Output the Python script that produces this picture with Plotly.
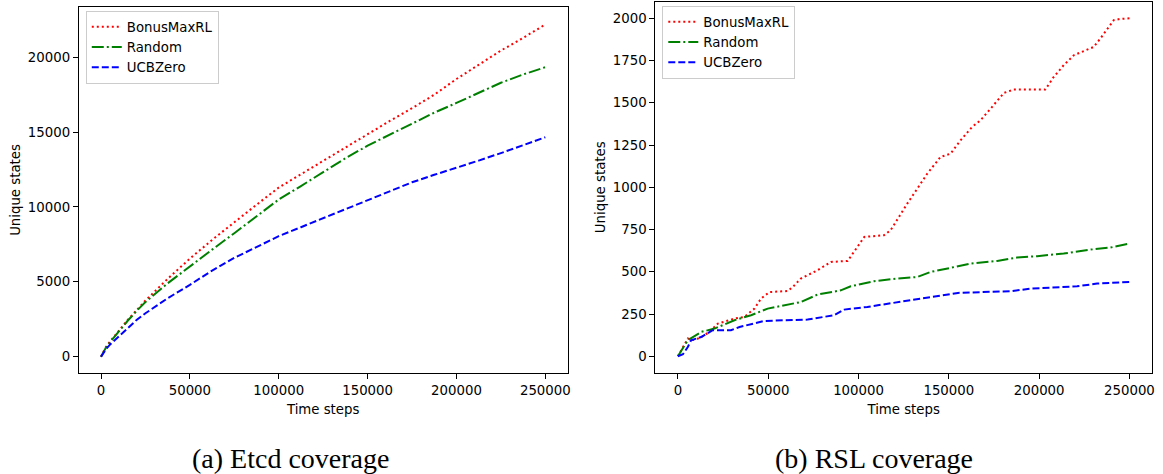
import plotly.graph_objects as go

W, H = 1163, 474

# ---------------- Data: Etcd coverage (left) ----------------
etcd_steps = [0, 2500, 5000, 10000, 15000, 20000, 25000, 37500, 50000, 62500, 75000,
              87500, 100000, 112500, 125000, 137500, 150000, 162500, 175000, 187500,
              200000, 212500, 225000, 237500, 250000]
etcd_bonus = [0, 600, 1000, 1750, 2450, 3100, 3750, 5200, 6550, 7800, 9000,
              10150, 11300, 12200, 13100, 14000, 14900, 15750, 16600, 17500,
              18550, 19500, 20450, 21300, 22190]
etcd_random = [0, 550, 950, 1700, 2400, 3050, 3650, 4900, 6050, 7150, 8250,
               9400, 10500, 11400, 12350, 13250, 14100, 14850, 15600, 16300,
               16950, 17650, 18300, 18850, 19340]
etcd_ucb = [0, 450, 800, 1350, 1950, 2450, 2900, 3900, 4800, 5750, 6600,
            7350, 8050, 8650, 9250, 9850, 10450, 11050, 11650, 12150,
            12600, 13100, 13600, 14150, 14660]

# ---------------- Data: RSL coverage (right) ----------------
rsl_bonus_x = [0, 2800, 5500, 9200, 14800, 18400, 22100, 31300, 36800, 42400, 46000,
               50700, 60800, 63600, 68100, 77300, 84700, 94000, 97600, 103200, 114100,
               117800, 122400, 127000, 138100, 145400, 151000, 156500, 162900, 167500,
               173100, 180500, 186000, 203400, 208100, 213600, 219200, 226600, 230200,
               233900, 239400, 241300, 244500, 250000]
rsl_bonus_y = [0, 55, 105, 95, 124, 154, 193, 223, 233, 282, 341,
               380, 386, 410, 460, 509, 558, 564, 617, 706, 716,
               746, 824, 903, 1081, 1179, 1199, 1278, 1357, 1396,
               1465, 1558, 1578, 1578, 1653, 1722, 1781, 1811, 1830,
               1880, 1959, 1988, 1995, 2000]

rsl_random_x = [0, 5500, 12900, 20300, 31300, 40500, 49700, 58900, 68100, 77300, 90200,
                95700, 108600, 121600, 132600, 140000, 151000, 162100, 176800, 187800,
                198900, 213600, 228300, 239400, 250000]
rsl_random_y = [0, 95, 144, 164, 213, 243, 282, 302, 321, 365, 390,
                414, 444, 460, 469, 499, 525, 548, 564, 584,
                592, 608, 631, 643, 667]

rsl_ucb_x = [0, 2800, 5500, 7300, 12900, 16500, 19300, 29400, 34100, 47900, 71800,
             86500, 92100, 104900, 123400, 138100, 155000, 184100, 195200, 221000,
             232100, 250000]
rsl_ucb_y = [0, 12, 55, 95, 114, 134, 154, 154, 173, 209, 217,
             243, 276, 292, 321, 347, 375, 385, 400, 414,
             430, 440]

series_names = ["BonusMaxRL", "Random", "UCBZero"]
x_ticks = [0, 50000, 100000, 150000, 200000, 250000]
etcd_y_ticks = [0, 5000, 10000, 15000, 20000]
rsl_y_ticks = [0, 250, 500, 750, 1000, 1250, 1500, 1750, 2000]
captions = ["(a) Etcd coverage", "(b) RSL coverage"]
x_title = "Time steps"
y_title = "Unique states"

# ---------------- Styles ----------------
styles = [
    dict(color="red", width=2, dash="2px,3px"),
    dict(color="green", width=2, dash="12px,3px,2px,3px"),
    dict(color="blue", width=2, dash="7px,3px"),
]
FONT = "DejaVu Sans"
TICKFONT = dict(family=FONT, size=13.3, color="black")

fig = go.Figure()

left_sets = [(etcd_steps, etcd_bonus), (etcd_steps, etcd_random), (etcd_steps, etcd_ucb)]
right_sets = [(rsl_bonus_x, rsl_bonus_y), (rsl_random_x, rsl_random_y), (rsl_ucb_x, rsl_ucb_y)]

for (xs, ys), name, st in zip(left_sets, series_names, styles):
    fig.add_trace(go.Scatter(x=xs, y=ys, mode="lines", name=name, line=st,
                             xaxis="x", yaxis="y", legend="legend"))
for (xs, ys), name, st in zip(right_sets, series_names, styles):
    fig.add_trace(go.Scatter(x=xs, y=ys, mode="lines", name=name, line=st,
                             xaxis="x2", yaxis="y2", legend="legend2"))

def px_x(p):
    return p / W

def px_y(p):
    return 1 - p / H

axis_common = dict(showline=True, linecolor="black", linewidth=1, mirror=True,
                   ticks="outside", ticklen=5, tickwidth=1, tickcolor="black",
                   showgrid=False, zeroline=False, tickfont=TICKFONT,
                   tickformat="d")

fig.update_layout(
    width=W, height=H,
    margin=dict(l=0, r=0, t=0, b=0),
    paper_bgcolor="white", plot_bgcolor="white",
    font=dict(family=FONT, size=13.3, color="black"),
    xaxis=dict(domain=[px_x(79), px_x(569)], range=[-12500, 262500], anchor="y",
               tickvals=x_ticks,
               title=dict(text=x_title, font=dict(family=FONT, size=13.3), standoff=7),
               **axis_common),
    yaxis=dict(domain=[px_y(373), px_y(7)], range=[-1090, 23360], anchor="x",
               tickvals=etcd_y_ticks,
               title=dict(text=y_title, font=dict(family=FONT, size=13.3), standoff=4),
               **axis_common),
    xaxis2=dict(domain=[px_x(657), px_x(1155)], range=[-12500, 262500], anchor="y2",
                tickvals=x_ticks,
                title=dict(text=x_title, font=dict(family=FONT, size=13.3), standoff=7),
                **axis_common),
    yaxis2=dict(domain=[px_y(373), px_y(1.5)], range=[-99, 2099], anchor="x2",
                tickvals=rsl_y_ticks,
                title=dict(text=y_title, font=dict(family=FONT, size=13.3), standoff=4),
                **axis_common),
    legend=dict(x=px_x(86), y=px_y(10.5), xanchor="left", yanchor="top",
                bgcolor="rgba(255,255,255,0.8)", bordercolor="#cccccc", borderwidth=1,
                font=dict(family=FONT, size=13.3, color="black"), tracegroupgap=0),
    legend2=dict(x=px_x(664), y=px_y(5.5), xanchor="left", yanchor="top",
                 bgcolor="rgba(255,255,255,0.8)", bordercolor="#cccccc", borderwidth=1,
                 font=dict(family=FONT, size=13.3, color="black"), tracegroupgap=0),
    showlegend=True,
)

for text, cx in zip(captions, [291, 876]):
    fig.add_annotation(text=text, x=px_x(cx), y=px_y(458), xref="paper", yref="paper",
                       xanchor="center", yanchor="middle", showarrow=False,
                       font=dict(family="Liberation Serif", size=28, color="black"))

fig.write_html("out.html", config={"displayModeBar": False},
               post_script="document.body.style.margin='0';document.body.style.padding='0';")
